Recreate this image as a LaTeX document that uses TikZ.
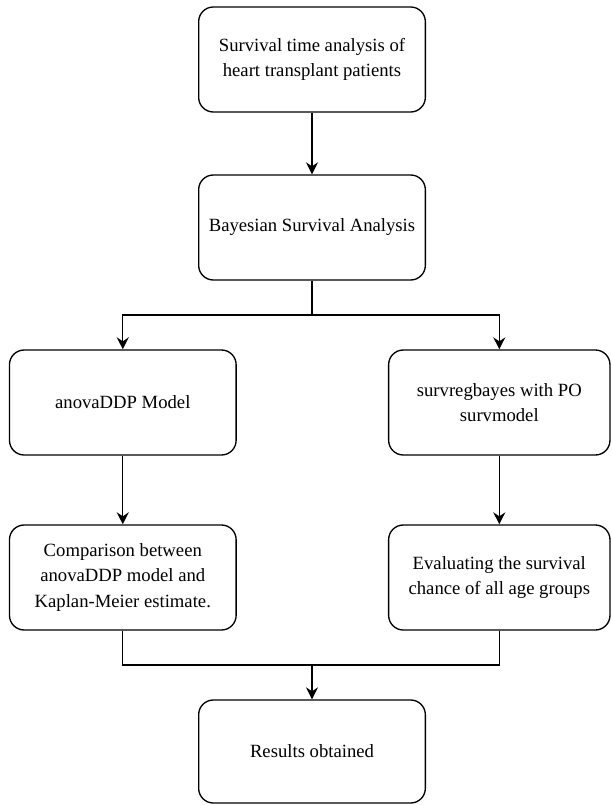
\documentclass[tikz,border=0pt]{standalone}
\usepackage{fontspec}
\setmainfont{Liberation Serif}
\usetikzlibrary{arrows.meta,positioning,calc}

\begin{document}
\begin{tikzpicture}[x=0.75pt, y=-0.75pt,
    every node/.style={font=\fontsize{14pt}{19pt}\selectfont},
    block/.style={draw, line width=1pt, rounded corners=11pt, align=center, minimum width=170pt, minimum height=78.75pt, inner sep=2pt},
    flow/.style={line width=1pt, -{Stealth[length=9pt, width=9pt, inset=3pt]}}]
        \useasboundingbox (0,0) rectangle (611,805);

        \node[block] (topic) at (312,59.5) {Survival time analysis of\\heart transplant patients};
        \node[block] (bayes) at (312,227.5) {Bayesian Survival Analysis};
        \node[block] (anova) at (122.8,402.5) {anovaDDP Model};
        \node[block, minimum width=166pt] (survreg) at (499.3,402.5) {survregbayes with PO\\survmodel};
        \node[block] (compare) at (122.8,577.5) {Comparison between\\anovaDDP model and\\Kaplan-Meier estimate.};
        \node[block, minimum width=166pt] (evaluate) at (499.3,577.5) {Evaluating the survival\\chance of all age groups};
        \node[block, minimum height=77.25pt] (results) at (312,751.5) {Results obtained};

        \coordinate (fork) at (312,315);
        \coordinate (join) at (312,665);

        \draw[flow] (topic) -- (bayes);
        \draw[line width=1pt] (bayes) -- (fork);
        \draw[flow] (fork) -| (anova);
        \draw[flow] (fork) -| (survreg);
        \draw[flow] (anova) -- (compare);
        \draw[flow] (survreg) -- (evaluate);
        \draw[line width=1pt] (compare) |- (join) -| (evaluate);
        \draw[flow] (join) -- (results);
      \end{tikzpicture}
\end{document}
